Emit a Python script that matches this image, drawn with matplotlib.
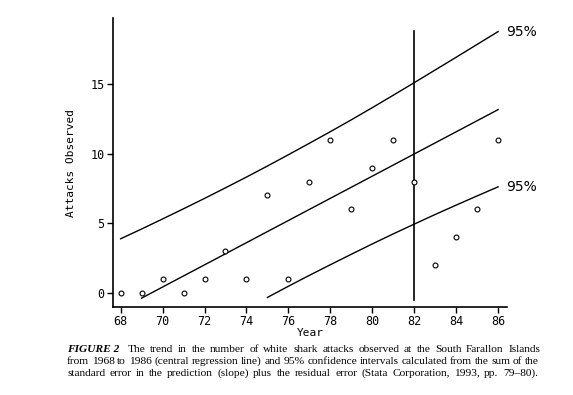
import matplotlib
matplotlib.use("Agg")
import matplotlib.pyplot as plt

# observed attacks per year
years = [68, 69, 70, 71, 72, 73, 74, 75, 76, 77, 78, 79, 80, 81, 82, 83, 84, 85, 86]
attacks = [0, 0, 1, 0, 1, 3, 1, 7, 1, 8, 11, 6, 9, 11, 8, 2, 4, 6, 11]

# upper 95% band
upper_years = years
upper_vals = [3.9, 4.6, 5.32, 6.05, 6.79, 7.55, 8.32, 9.11, 9.92, 10.74, 11.57,
              12.42, 13.29, 14.18, 15.08, 15.99, 16.9, 17.82, 18.74]

# central regression line
reg_years = [69, 86]
reg_vals = [-0.35, 13.15]

# lower 95% band
lower_years = [75, 76, 77, 78, 79, 80, 81, 82, 83, 84, 85, 86]
lower_vals = [-0.3, 0.5, 1.28, 2.04, 2.79, 3.53, 4.25, 4.95, 5.64, 6.31, 6.97, 7.62]

# vertical marker line at 1982
vline_year = 82
vline_range = [-0.5, 18.8]

xticks = [68, 70, 72, 74, 76, 78, 80, 82, 84, 86]
yticks = [0, 5, 10, 15]

caption_head = "FIGURE 2"
caption_lines = [
    "The trend in the number of white shark attacks observed at the South Farallon Islands",
    "from 1968 to 1986 (central regression line) and 95% confidence intervals calculated from the sum of the",
    "standard error in the prediction (slope) plus the residual error (Stata Corporation, 1993, pp. 79\u201380).",
]

mono = "DejaVu Sans Mono"
serif = "Liberation Serif"
W, H = 573, 395

fig = plt.figure(figsize=(5.73, 3.95), dpi=100)
ax = fig.add_axes([0.197, 0.223, 0.688, 0.731])

ax.plot(years, attacks, 'o', mfc='white', mec='black', ms=3.5, mew=0.8, zorder=3)
ax.plot(upper_years, upper_vals, color='black', lw=1)
ax.plot(reg_years, reg_vals, color='black', lw=1)
ax.plot(lower_years, lower_vals, color='black', lw=1)
ax.plot([vline_year, vline_year], vline_range, color='black', lw=1.2)

ax.text(86.4, upper_vals[-1], "95%", fontsize=10, va='center', ha='left')
ax.text(86.4, lower_vals[-1], "95%", fontsize=10, va='center', ha='left')

ax.set_xlim(67.63, 86.43)
ax.set_ylim(-0.98, 19.7)
ax.set_xticks(xticks)
ax.set_yticks(yticks)
ax.set_xticklabels([str(t) for t in xticks], family=mono, fontsize=8.5)
ax.set_yticklabels([str(t) for t in yticks], family=mono, fontsize=8.5)
ax.tick_params(direction='out', length=4, width=1, pad=2)
ax.set_xlabel("Year", family=mono, fontsize=8, labelpad=0)
ax.set_ylabel("Attacks Observed", family=mono, fontsize=8, labelpad=10)

for s in ['top', 'right']:
    ax.spines[s].set_visible(False)
for s in ['left', 'bottom']:
    ax.spines[s].set_linewidth(1.2)


# caption, justified between two pixel x positions
renderer = fig.canvas.get_renderer()


def justify(line, x0, x1, ypix, size=8.2):
    words = line.split()
    texts = [fig.text(0, 1 - ypix / H, w, family=serif, fontsize=size, va='center')
             for w in words]
    widths = [t.get_window_extent(renderer).width for t in texts]
    gap = (x1 - x0 - sum(widths)) / (len(words) - 1)
    x = x0
    for t, w in zip(texts, widths):
        t.set_x(x / W)
        x += w + gap


fig.text(67 / W, 1 - 349 / H, caption_head, family=serif, fontsize=8.2,
         fontweight='bold', fontstyle='italic', va='center')
justify(caption_lines[0], 128, 540, 349)
justify(caption_lines[1], 67, 539, 361)
justify(caption_lines[2], 67, 538, 373)

fig.savefig("out.png", dpi=100)
